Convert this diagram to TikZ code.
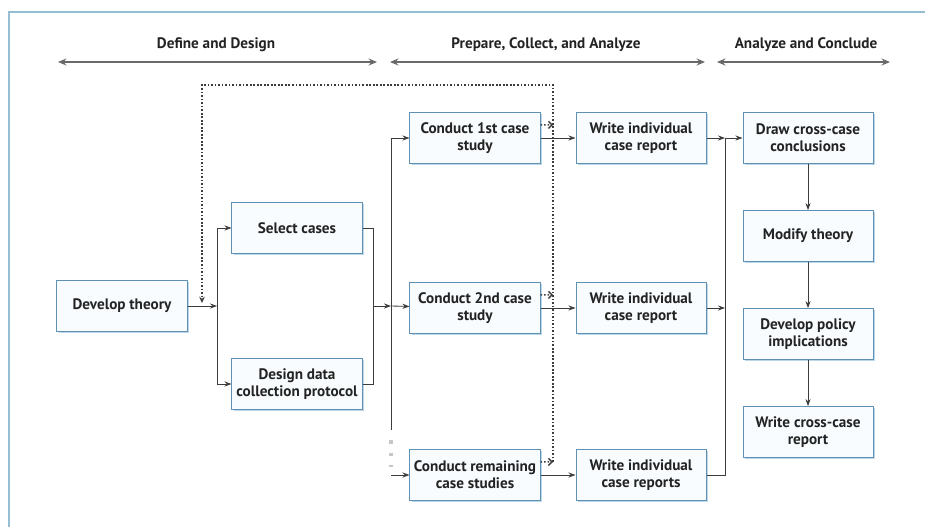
\documentclass[tikz,border=0pt]{standalone}
\usepackage{fontspec}
\setmainfont{PT Sans}
\usetikzlibrary{arrows.meta,shadows}

\begin{document}
\begin{tikzpicture}[x=0.025cm, y=-0.025cm,
  every node/.style={font=\bfseries\fontsize{10.8}{12}\selectfont, text=textcol},
  stepbox/.style={draw=boxline, line width=0.7pt, fill=boxfill, minimum width=3.25cm,
    minimum height=1.27cm, align=center, inner sep=1pt,
    drop shadow={shadow xshift=1.3pt, shadow yshift=-1.3pt, fill=boxshadow, opacity=1}},
  flow/.style={draw=flowline, line width=0.6pt, -{Stealth[length=5pt, width=3.6pt]}},
  link/.style={draw=flowline, line width=0.6pt},
  loop/.style={draw=flowline, line width=1pt, dash pattern=on 1.2pt off 1.3pt},
  gapdots/.style={draw=gray!45, line width=2.6pt, dash pattern=on 2.6pt off 6.4pt},
  phase/.style={draw=phaseline, line width=1.1pt,
    {Stealth[length=6pt, width=5pt]}-{Stealth[length=6pt, width=5pt]}}
]
\definecolor{textcol}{RGB}{35,35,35}
\definecolor{boxline}{RGB}{95,145,180}
\definecolor{boxfill}{RGB}{248,252,254}
\definecolor{boxshadow}{RGB}{190,215,232}
\definecolor{flowline}{RGB}{60,60,60}
\definecolor{phaseline}{RGB}{105,105,105}
\definecolor{framecol}{RGB}{150,190,210}
\clip (0,0) rectangle (925,526);
\fill[white] (0,0) rectangle (925,526);
% Outer frame
\draw[framecol, line width=1.5pt] (9,12) rectangle (940,545);
% Phase headers
\node (hdefine) at (216,45) {Define and Design};
\node (hprepare) at (546,45) {Prepare, Collect, and Analyze};
\node (hconclude) at (806,45) {Analyze and Conclude};
\foreach \from/\to/\name in {58/377/define, 390/705/prepare, 717/890/conclude} {
  \coordinate (\name L) at (\from,62);
  \coordinate (\name R) at (\to,62);
  \draw[phase] (\name L) -- (\name R);
}
% Boxes
\node[stepbox] (theory) at (122,306) {Develop theory};
\node[stepbox] (select) at (297,228) {Select cases};
\node[stepbox] (protocol) at (297,384) {Design data\\collection protocol};
\node[stepbox] (case1) at (475,138) {Conduct 1st case\\study};
\node[stepbox] (case2) at (475,308) {Conduct 2nd case\\study};
\node[stepbox] (case3) at (475,475) {Conduct remaining\\case studies};
\node[stepbox] (report1) at (641,138) {Write individual\\case report};
\node[stepbox] (report2) at (641,308) {Write individual\\case report};
\node[stepbox] (report3) at (641,475) {Write individual\\case reports};
\node[stepbox] (conclude) at (808,138) {Draw cross-case\\conclusions};
\node[stepbox] (modify) at (808,236) {Modify theory};
\node[stepbox] (policy) at (808,334) {Develop policy\\implications};
\node[stepbox] (crossrep) at (808,432) {Write cross-case\\report};
% Junction points
\coordinate (split1) at (217,306);
\coordinate (merge1) at (373,306);
\coordinate (split2) at (391,306);
\coordinate (gaptop) at (391,430);
\coordinate (split3) at (391,475);
\coordinate (bus1) at (725,138);
\coordinate (bus2) at (725,308);
\coordinate (bus3) at (725,475);
% Define and design
\draw[flow] (theory) -- (split1);
\draw[flow] (split1) |- (select);
\draw[flow] (split1) |- (protocol);
\draw[link] (select.east) -| (merge1);
\draw[link] (protocol.east) -| (merge1);
\draw[flow] (merge1) -- (split2);
% Case studies
\draw[flow] (split2) |- (case1);
\draw[flow] (split2) -- (case2);
\draw[link] (split2) -- (gaptop);
\draw[gapdots] ([yshift=-0.25cm]gaptop) -- ([yshift=0.2cm]split3);
\draw[flow] (split3) -- (case3);
\foreach \i in {1,2,3} {
  \draw[flow] (case\i) -- (report\i);
}
% Feedback loop to theory
\coordinate (fb1) at (553,125);
\coordinate (fb2) at (553,295);
\coordinate (fb3) at (553,462);
\coordinate (fbtop) at (553,85);
\coordinate (fbcorner) at (202,85);
\coordinate (fbend) at (202,303);
\foreach \i in {1,2,3} {
  \draw[loop, -{Straight Barb[length=2.5pt, width=5pt]}] ([yshift=0.33cm]case\i.east) -- (fb\i);
}
\draw[loop, -{Stealth[length=4.5pt, width=4pt, open]}] (fb3) -- (fbtop) -- (fbcorner) -- (fbend);
% Cross-case analysis
\draw[flow] (report1) -- (bus1);
\draw[flow] (report2) -- (bus2);
\draw[link] (report3) -- (bus3) -- (bus1);
\draw[flow] (bus1) -- (conclude);
\foreach \a/\b in {conclude/modify, modify/policy, policy/crossrep} {
  \draw[flow] (\a) -- (\b);
}
\end{tikzpicture}
\end{document}
